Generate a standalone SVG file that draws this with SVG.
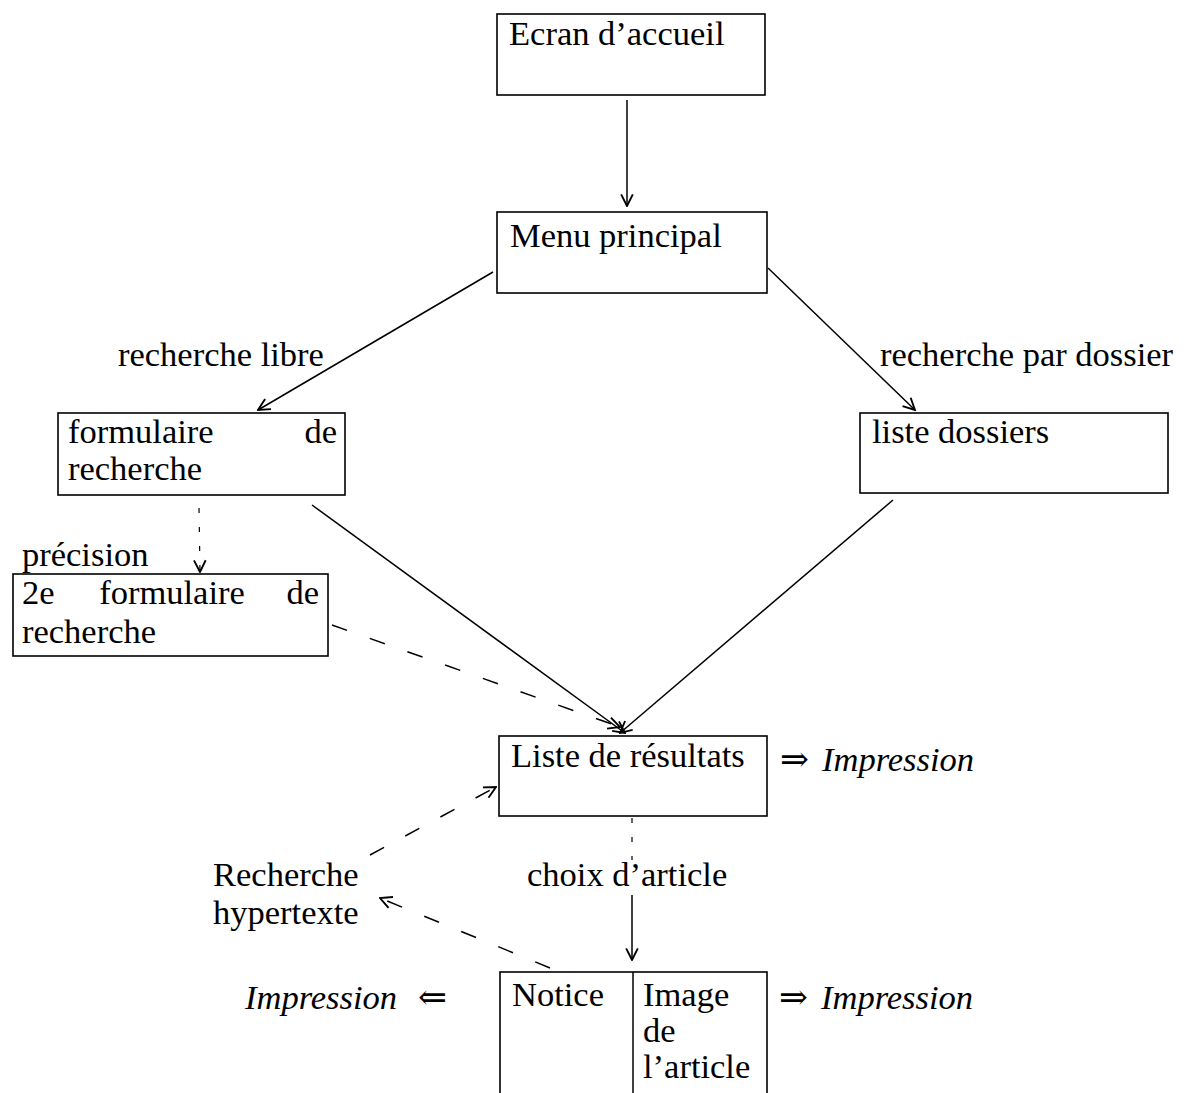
<svg xmlns="http://www.w3.org/2000/svg" width="1187" height="1093" viewBox="0 0 1187 1093">
<style>
.box{fill:#fff;stroke:#000;stroke-width:1.6}
.t{font-family:"Liberation Serif","DejaVu Serif",serif;font-size:34.5px;fill:#000}
.i{font-style:italic}
.c{fill:none;stroke:#000;stroke-width:1.5}
.d{stroke-dasharray:16 24}
.dot{stroke-dasharray:5 14;stroke-width:1.2}
</style>
<defs>
<marker id="ah" viewBox="0 0 12 12" refX="11" refY="6" markerWidth="14" markerHeight="14" markerUnits="userSpaceOnUse" orient="auto">
<path d="M1,1 L11,6 L1,11" fill="none" stroke="#000" stroke-width="1.6"/>
</marker>
</defs>
<rect width="1187" height="1093" fill="#fff"/>
<g id="connectors">
<line class="c" x1="627" y1="100" x2="627" y2="206" marker-end="url(#ah)"/>
<line class="c" x1="493" y1="272" x2="258" y2="410" marker-end="url(#ah)"/>
<line class="c" x1="768" y1="268" x2="915" y2="410" marker-end="url(#ah)"/>
<line class="c dot" x1="199" y1="508" x2="200" y2="572" marker-end="url(#ah)"/>
<line class="c" x1="312" y1="505" x2="625" y2="733" marker-end="url(#ah)"/>
<line class="c" x1="893" y1="500" x2="620" y2="733" marker-end="url(#ah)"/>
<line class="c d" x1="332" y1="625" x2="620" y2="727" marker-end="url(#ah)"/>
<line class="c d" x1="370" y1="855" x2="496" y2="787" marker-end="url(#ah)"/>
<line class="c dot" x1="632" y1="818" x2="632" y2="860"/>
<line class="c" x1="632" y1="895" x2="632" y2="960" marker-end="url(#ah)"/>
<line class="c d" x1="550" y1="968" x2="380" y2="898" marker-end="url(#ah)"/>
</g>
<g id="ecran">
<rect class="box" x="497" y="14" width="268" height="81"/>
<text class="t" x="509" y="45">Ecran d’accueil</text>
</g>
<g id="menu">
<rect class="box" x="497" y="212" width="270" height="81"/>
<text class="t" x="510" y="247">Menu principal</text>
</g>
<g id="label-libre"><text class="t" x="118" y="366">recherche libre</text></g>
<g id="label-dossier"><text class="t" x="880" y="366">recherche par dossier</text></g>
<g id="formulaire">
<rect class="box" x="58" y="413" width="287" height="82"/>
<text class="t" x="68" y="443">formulaire</text>
<text class="t" x="337" y="443" text-anchor="end">de</text>
<text class="t" x="68" y="480">recherche</text>
</g>
<g id="dossiers">
<rect class="box" x="860" y="413" width="308" height="80"/>
<text class="t" x="872" y="443">liste dossiers</text>
</g>
<g id="label-precision"><text class="t" x="22" y="566">précision</text></g>
<g id="formulaire2">
<rect class="box" x="13" y="574" width="315" height="82"/>
<text class="t" x="22" y="604">2e</text>
<text class="t" x="172" y="604" text-anchor="middle">formulaire</text>
<text class="t" x="319" y="604" text-anchor="end">de</text>
<text class="t" x="22" y="643">recherche</text>
</g>
<g id="resultats">
<rect class="box" x="499" y="736" width="268" height="80"/>
<text class="t" x="511" y="767">Liste de résultats</text>
</g>
<g id="impression1"><text class="t" x="780" y="771">⇒ <tspan class="i" x="822">Impression</tspan></text></g>
<g id="label-hypertexte">
<text class="t" x="213" y="886">Recherche</text>
<text class="t" x="213" y="924">hypertexte</text>
</g>
<g id="label-choix"><text class="t" x="527" y="886">choix d’article</text></g>
<g id="notice">
<rect class="box" x="500" y="972" width="267" height="130"/>
<line class="c" x1="633" y1="972" x2="633" y2="1093"/>
<text class="t" x="512" y="1006">Notice</text>
<text class="t" x="643" y="1006">Image</text>
<text class="t" x="643" y="1042">de</text>
<text class="t" x="643" y="1078">l’article</text>
</g>
<g id="impression-left"><text class="t" x="245" y="1009"><tspan class="i">Impression</tspan><tspan x="418">⇐</tspan></text></g>
<g id="impression-right"><text class="t" x="779" y="1009">⇒ <tspan class="i" x="821">Impression</tspan></text></g>
</svg>
